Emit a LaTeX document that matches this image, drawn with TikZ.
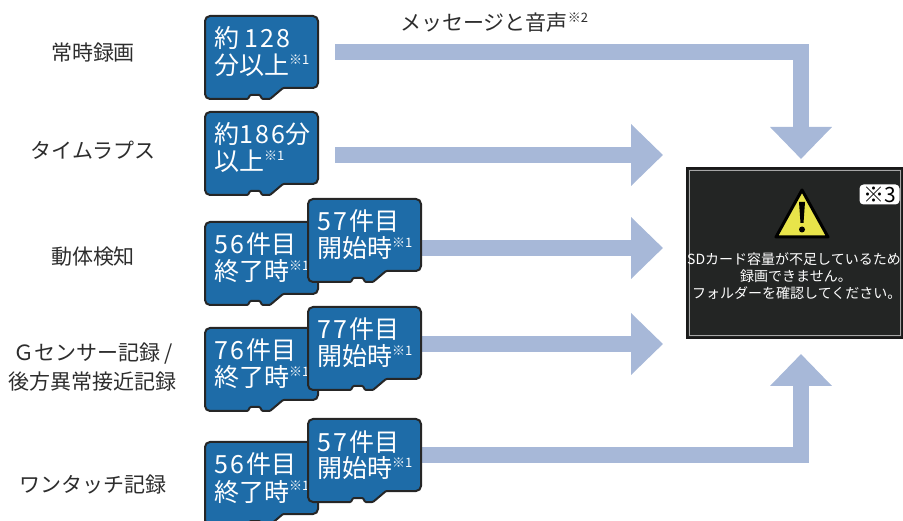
\documentclass[tikz,border=0pt]{standalone}
\usepackage{fontspec}
\setmainfont{Noto Sans CJK JP}
\newfontfamily\digfont{Noto Sans CJK JP}[LetterSpace=10]
\usetikzlibrary{arrows.meta}
\definecolor{cardblue}{RGB}{30,108,168}
\definecolor{flowblue}{RGB}{167,184,216}
\definecolor{msgbg}{RGB}{35,37,36}
\definecolor{warnyellow}{RGB}{232,228,74}
\definecolor{labelgray}{RGB}{45,45,45}
\newcommand{\kome}[1]{\raisebox{0.42em}{\fontsize{13}{13}\selectfont ※#1}}
\newcommand{\dg}[1]{{\digfont #1}}
\tikzset{
  cardshape/.style={fill=cardblue, draw=black!85, line width=2pt},
  cardtext/.style={text=white, font=\fontsize{25}{27}\selectfont, inner sep=0pt, anchor=base west},
  sidelabel/.style={text=labelgray, font=\fontsize{21}{29}\selectfont, align=center, inner sep=0pt},
  flow/.style={draw=flowblue, line width=16pt, line join=miter, -{Triangle[width=0pt 3.75,length=0pt 2]}},
  msgbox/.style={fill=msgbg, draw=black!90, line width=2pt, minimum width=216pt, minimum height=170pt, inner sep=0pt},
  msgtext/.style={text=white, font=\fontsize{14}{16.5}\selectfont, inner sep=0pt, anchor=base west},
  badge/.style={fill=white, rounded corners=4pt, text=black, font=\fontsize{21}{21}\selectfont, minimum width=40pt, minimum height=20pt, inner sep=0pt},
  pics/card/.style 2 args={code={
    \path[cardshape] (0,40) [rounded corners=5pt] -- (0,0) -- (113,0) -- (113,72)
      [rounded corners=1pt] -- (78,72) -- (65,83) -- (57,83) -- (55,79) -- (45,79) -- (43,83)
      [rounded corners=5pt] -- (0,83) -- cycle;
    \node[cardtext] at (9,32) {#1};
    \node[cardtext] at (9,59) {#2};
    \node[inner sep=0pt, minimum width=113pt, minimum height=83pt] (-box) at (56.5,41.5) {};
  }}
}
\begin{document}
\begin{tikzpicture}[x=1pt, y=-1pt]
\useasboundingbox (0,0) rectangle (903,521);
\clip (0,0) rectangle (903,521);

% message box
\node[msgbox] (msg) at (795,253) {};
\draw[gray!70, line width=1pt] ([shift={(3.5pt,3.5pt)}]msg.south west) rectangle ([shift={(-3.5pt,-3.5pt)}]msg.north east);
\coordinate (mtop) at ([xshift=6pt]msg.north);
\coordinate (mbot) at ([xshift=6pt]msg.south);

% flow start points
\coordinate (s1) at (335,52);
\coordinate (s2) at (335,155);
\coordinate (s3) at (400,248);
\coordinate (s4) at (400,344);
\coordinate (s5) at (400,455);

% arrows
\draw[flow, shorten >=8pt] (s1) -| (mtop);
\draw[flow, shorten >=23pt] (s2) -- (s2 -| msg.west);
\draw[flow, shorten >=23pt] (s3) -- (s3 -| msg.west);
\draw[flow, shorten >=23pt] (s4) -- (s4 -| msg.west);
\draw[flow, shorten >=15pt] (s5) -| (mbot);

% cards
\pic (c1) at (205,16) {card={約\hspace{5pt}\dg{128}}{分以上\kome{1}}};
\pic (c2) at (205,112) {card={約\dg{186}分}{以上\kome{1}}};
\pic (c3a) at (205,222) {card={\dg{56}\hspace{2pt}件目}{終了時\kome{1}}};
\pic (c3b) at (308,199) {card={\dg{57}\hspace{2pt}件目}{開始時\kome{1}}};
\pic (c4a) at (205,328) {card={\dg{76}\hspace{2pt}件目}{終了時\kome{1}}};
\pic (c4b) at (308,307) {card={\dg{77}\hspace{2pt}件目}{開始時\kome{1}}};
\pic (c5a) at (205,442) {card={\dg{56}\hspace{2pt}件目}{終了時\kome{1}}};
\pic (c5b) at (308,419) {card={\dg{57}\hspace{2pt}件目}{開始時\kome{1}}};

% left labels
\node[sidelabel] (l1) at (93,53) {常時録画};
\node[sidelabel] (l2) at (93,150) {タイムラプス};
\node[sidelabel] (l3) at (93,257) {動体検知};
\node[sidelabel] (l4) at (93,367) {Ｇセンサー記録 /\\後方異常接近記録};
\node[sidelabel] (l5) at (93,485) {ワンタッチ記録};

% message caption
\node[sidelabel, anchor=base west] (cap) at (400,31) {メッセージと音声\kome{2}};

% warning icon
\draw[fill=warnyellow, draw=black, line width=3pt, line join=round] (802,190) -- (828,237) -- (776,237) -- cycle;
\fill[black] (799,202) -- (805,202) -- (803.5,223) -- (800.5,223) -- cycle;
\fill[black] (802,229.5) circle (3);
\node[badge] (b3) at (879.5,194.5) {※3};

% message text
\node[msgtext] (mt1) at (687,265) {SDカード容量が不足しているため};
\node[msgtext] (mt2) at (740,282) {録画できません。};
\node[msgtext] (mt3) at (692,298.5) {フォルダーを確認してください。};
\end{tikzpicture}
\end{document}
